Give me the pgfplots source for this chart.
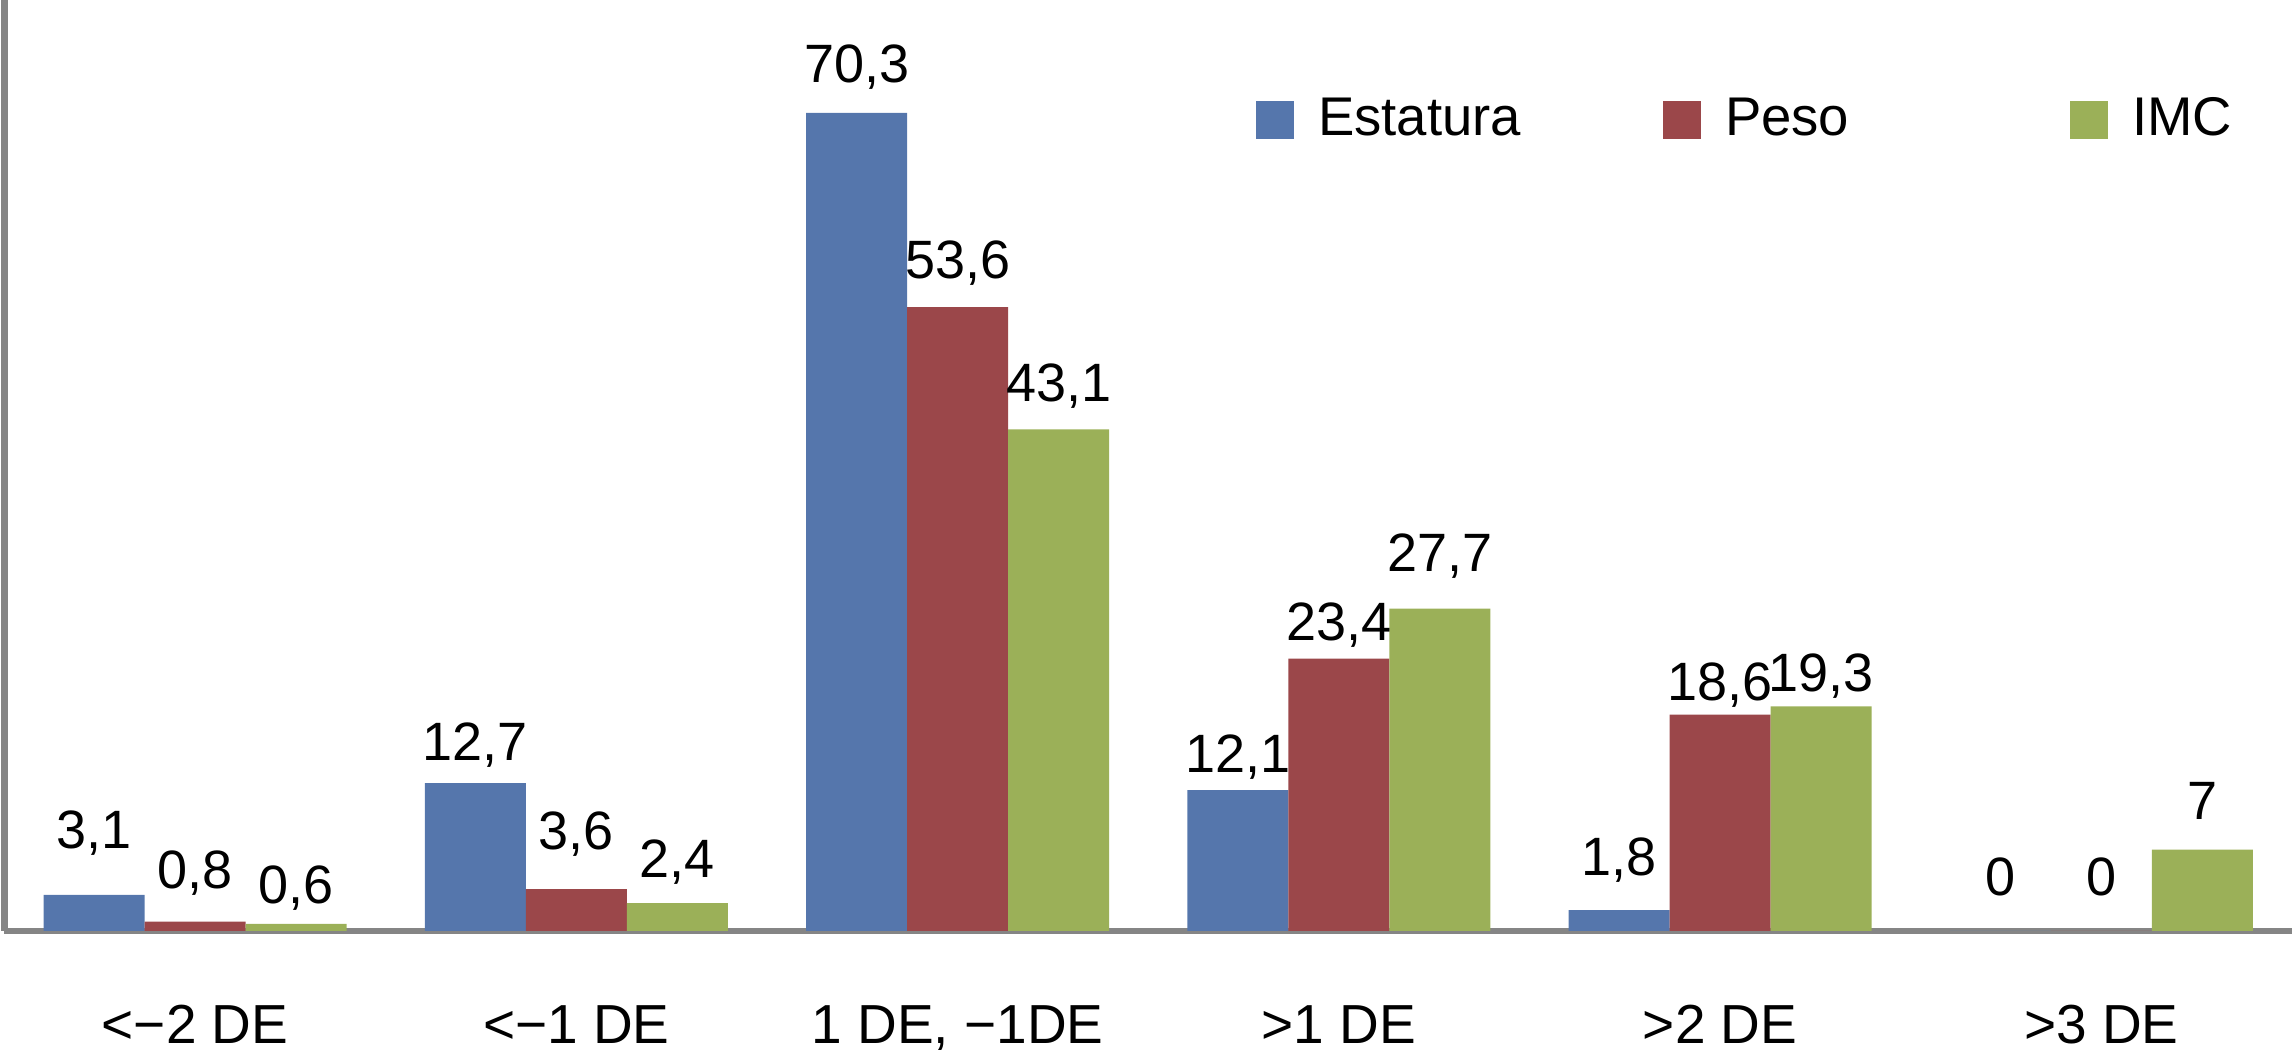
\documentclass[border=0pt]{standalone}
\usepackage{pgfplots}
\pgfplotsset{compat=1.18}
\usepackage{pgfplotstable}
\usepackage{fontspec}
\setmainfont{Liberation Sans}
\definecolor{cblue}{RGB}{85,118,172}
\definecolor{cred}{RGB}{155,71,74}
\definecolor{cgreen}{RGB}{155,176,88}
\definecolor{axgray}{RGB}{133,133,133}

\pgfplotstableread{
x y lab off
0 3.1 {3,1} 46
1 12.7 {12,7} 23
2 70.3 {70,3} 30
3 12.1 {12,1} 18
4 1.8 {1,8} 35
5 0 {0} 35
}\estatura
\pgfplotstableread{
x y lab off
0 0.8 {0,8} 33
1 3.6 {3,6} 40
2 53.6 {53,6} 29
3 23.4 {23,4} 18
4 18.6 {18,6} 14
5 0 {0} 35
}\peso
\pgfplotstableread{
x y lab off
0 0.6 {0,6} 20
1 2.4 {2,4} 26
2 43.1 {43,1} 28
3 27.7 {27,7} 37
4 19.3 {19,3} 15
5 7 {7} 30
}\imc

\begin{document}
\begin{tikzpicture}
\begin{axis}[
  name=ax,
  scale only axis,
  width=457.5pt, height=186.2pt,
  xmin=-0.5, xmax=5.5, ymin=0, ymax=80,
  ybar=0pt, bar width=20.2pt,
  axis x line=bottom, axis y line=left,
  axis line style={-, draw=axgray, line width=1.3pt},
  xtick={0,1,2,3,4,5},
  xticklabels={<−2 DE, <−1 DE, {1 DE, −1DE}, >1 DE, >2 DE, >3 DE},
  major tick length=0pt,
  xticklabel style={font=\fontsize{11}{13}\selectfont, anchor=base, yshift=-22.6pt},
  ytick=\empty,
  clip=false,
  nodes near coords,
  point meta=explicit symbolic,
  visualization depends on={\thisrow{off}\as\myoff},
  every node near coord/.append style={anchor=base, yshift=\myoff*0.2pt, font=\fontsize{10.8}{13}\selectfont, text=black},
  legend columns=3,
  legend style={at={(0.5467,0.871)}, anchor=west, draw=none, fill=none,
    column sep=0pt, inner sep=0pt, nodes={inner sep=0pt},
    font=\fontsize{10.9}{13}\selectfont},
  legend image code/.code={\fill[#1] (0pt,-3.8pt) rectangle (7.6pt,3.8pt);},
]
\addplot[fill=cblue, draw=none] table[x=x, y=y, meta=lab] {\estatura};
\addlegendentry{\makebox[73.8pt][l]{\hspace{4.8pt}Estatura}}
\addplot[fill=cred, draw=none] table[x=x, y=y, meta=lab] {\peso};
\addlegendentry{\makebox[73.8pt][l]{\hspace{4.8pt}Peso}}
\addplot[fill=cgreen, draw=none] table[x=x, y=y, meta=lab] {\imc};
\addlegendentry{\makebox[73.8pt][l]{\hspace{4.8pt}IMC}}
\end{axis}
\pgfresetboundingbox
\path (ax.south west) ++(-0.9pt,-23.8pt) rectangle (ax.north east);
\end{tikzpicture}
\end{document}
